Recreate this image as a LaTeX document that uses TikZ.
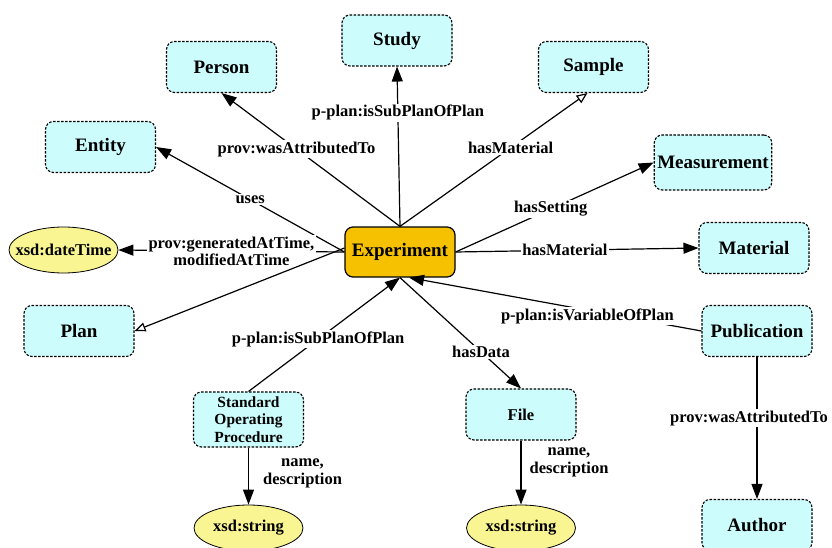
\documentclass[tikz,border=0pt]{standalone}
\usepackage{fontspec}
\setmainfont{Liberation Serif}
\usetikzlibrary{arrows.meta}
\usetikzlibrary{shapes.geometric}
\definecolor{clsfill}{RGB}{204,252,252}
\definecolor{expfill}{RGB}{245,193,0}
\definecolor{litfill}{RGB}{249,245,146}
\newcommand{\littext}[1]{\makebox[0pt]{#1}}
\tikzset{
  cls/.style={draw, fill=clsfill, rounded corners=8pt, dash pattern=on 2.5pt off 1.5pt,
    line width=1.1pt, minimum width=110pt, minimum height=51pt, inner sep=3pt,
    align=center, font=\fontsize{19}{21}\selectfont\bfseries},
  clssmall/.style={cls, font=\fontsize{16.5}{18}\selectfont\bfseries},
  sop/.style={cls, minimum height=55pt, inner sep=1pt, font=\fontsize{15.5}{17.5}\selectfont\bfseries},
  main/.style={draw, fill=expfill, rounded corners=8pt, line width=1.2pt,
    minimum width=110pt, minimum height=50pt, inner sep=3pt,
    font=\fontsize{19}{21}\selectfont\bfseries},
  lit/.style={draw, ellipse, fill=litfill, line width=0.8pt, minimum width=109pt,
    minimum height=46pt, inner sep=1pt, font=\fontsize{16.5}{18}\selectfont\bfseries},
  lbl/.style={fill=white, inner sep=1.5pt, align=center, font=\fontsize{16.5}{17}\selectfont\bfseries},
  side/.style={inner sep=0pt, align=center, font=\fontsize{16.5}{18}\selectfont\bfseries},
  rel/.style={line width=1.2pt, -{Triangle[length=15pt,width=11pt]}},
  sub/.style={line width=1.2pt, -{Triangle[open,length=11pt,width=9pt,fill=white]}}
}
\begin{document}
\begin{tikzpicture}[x=1pt,y=-1pt]
\useasboundingbox (0,0) rectangle (832,548);
\node[main] (exp) at (400,252) {Experiment};
\node[cls] (study) at (397,40.5) {Study};
\node[cls] (person) at (221.5,67) {Person};
\node[cls] (sample) at (593.5,67) {Sample};
\node[cls] (entity) at (100.5,147) {Entity};
\node[cls, minimum height=55pt] (meas) at (713,162.5) {Measurement};
\node[cls] (mat) at (754,248) {Material};
\node[lit] (dt) at (63.5,250) {\littext{xsd:dateTime}};
\node[cls] (plan) at (79,331) {Plan};
\node[sop] (sop) at (248.5,419.5) {Standard\\Operating\\Procedure};
\node[lit] (str1) at (248.5,528) {\littext{xsd:string}};
\node[clssmall] (file) at (521,414.5) {File};
\node[lit] (str2) at (521,528) {\littext{xsd:string}};
\node[cls] (pub) at (757,331) {Publication};
\node[cls] (author) at (757,525) {Author};

\draw[rel] (exp.north) -- (study.south) node[lbl,pos=.71]{p-plan:isSubPlanOfPlan};
\draw[rel] (exp.north) -- (person.south) node[lbl,pos=.58]{prov:wasAttributedTo};
\draw[rel] (exp.west) -- (entity.east) node[lbl,pos=.5]{uses};
\draw[sub] (exp.north) -- ([xshift=-6pt]sample.south) node[lbl,pos=.59]{hasMaterial};
\draw[rel] (exp.east) -- (meas.west) node[lbl,pos=.48]{hasSetting};
\draw[rel] (exp.east) -- (mat.west) node[lbl,pos=.45]{hasMaterial};
\draw[rel] (exp.west) -- (dt.east) node[lbl,pos=.5]{prov:generatedAtTime,\\modifiedAtTime};
\draw[sub] ([yshift=4pt]exp.west) -- (plan.east);
\draw[rel] (sop.north) -- (exp.south) node[lbl,pos=.46]{p-plan:isSubPlanOfPlan};
\draw[rel] (exp.south) -- (file.north) node[lbl,pos=.67]{hasData};
\draw[rel] (pub.west) -- ([xshift=9pt]exp.south) node[lbl,pos=.39,yshift=-6pt]{p-plan:isVariableOfPlan};
\draw[rel] (pub.south) -- (author.north) node[lbl,pos=.43,xshift=-8pt]{prov:wasAttributedTo};
\draw[rel] (sop.south) -- (str1.north) node[side,pos=.45,anchor=west,xshift=14pt]{name,\\description};
\draw[rel] (file.south) -- (str2.north) node[side,pos=.34,anchor=west,xshift=8pt]{name,\\description};
\end{tikzpicture}
\end{document}
